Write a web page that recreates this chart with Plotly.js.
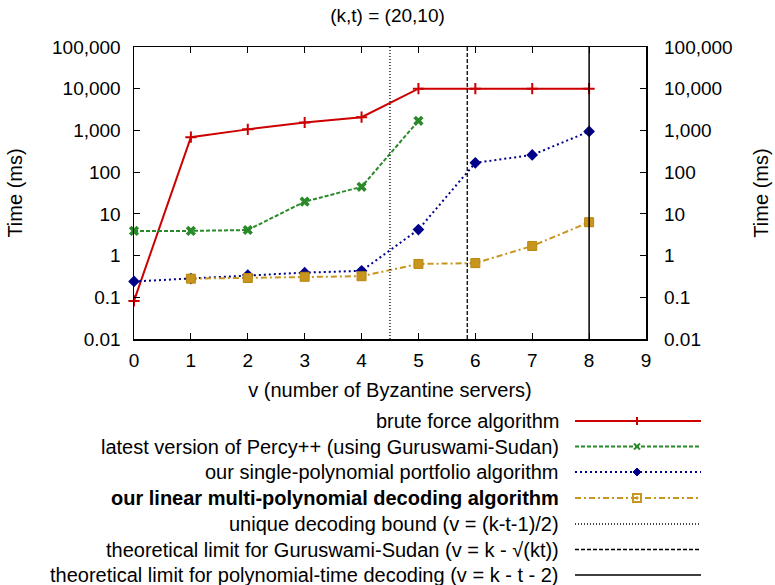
<!DOCTYPE html>
<html>
<head>
<meta charset="utf-8">
<script src="https://cdn.plot.ly/plotly-3.0.1.min.js"></script>
<style>html,body{margin:0;padding:0;background:#fff;}#chart{width:775px;height:585px;}</style>
</head>
<body>
<div id="chart"></div>
<script>
// ---- data ----
const vServers = [0, 1, 2, 3, 4, 5, 6, 7, 8];
const bruteForce = [0.082, 690, 1060, 1550, 2080, 10000, 10000, 10000, 10000];
const percyX = [0, 1, 2, 3, 4, 5];
const percyGS = [3.9, 3.9, 4.1, 19.6, 44.5, 1700];
const singlePoly = [0.24, 0.28, 0.34, 0.39, 0.43, 4.2, 167, 258, 945];
const linearX = [1, 2, 3, 4, 5, 6, 7, 8];
const linearMulti = [0.28, 0.29, 0.31, 0.32, 0.63, 0.66, 1.7, 6.3];
const kParam = 20, tParam = 10;
const uniqueBound = (kParam - tParam - 1) / 2;
const gsLimit = kParam - Math.sqrt(kParam * tParam);
const polyLimit = kParam - tParam - 2;
const yTickVals = [0.01, 0.1, 1, 10, 100, 1000, 10000, 100000];
const yTickText = ['0.01', '0.1', '1', '10', '100', '1,000', '10,000', '100,000'];
const legendLabels = [
  'brute force algorithm',
  'latest version of Percy++ (using Guruswami-Sudan)',
  'our single-polynomial portfolio algorithm',
  '<b>our linear multi-polynomial decoding algorithm</b>',
  'unique decoding bound (v = (k-t-1)/2)',
  'theoretical limit for Guruswami-Sudan (v = k - √(kt))',
  'theoretical limit for polynomial-time decoding (v = k - t - 2)'
];

// ---- styles ----
const FONT = 'Liberation Sans, Arial, Helvetica, sans-serif';
const RED = '#cc0000', GREEN = '#2a8a2a', BLUE = '#00008b', GOLD = '#c8961e';
const PL = 134, PR = 646, PT = 47, PB = 339; // plot frame in px
const px2x = p => (p - PL) / (PR - PL);
const px2y = p => (PB - p) / (PB - PT);

const traces = [
  {x: vServers, y: bruteForce, mode: 'lines+markers', line: {color: RED, width: 2},
   marker: {symbol: 'cross-thin', size: 8, line: {color: RED, width: 2}}, cliponaxis: false},
  {x: percyX, y: percyGS, mode: 'lines+markers', line: {color: GREEN, width: 2, dash: '4px,2px'},
   marker: {symbol: 'x', size: 9, color: GREEN}, cliponaxis: false},
  {x: vServers, y: singlePoly, mode: 'lines+markers', line: {color: BLUE, width: 2, dash: '2px,3px'},
   marker: {symbol: 'diamond', size: 9, color: BLUE}, cliponaxis: false},
  {x: linearX, y: linearMulti, mode: 'lines+markers', line: {color: GOLD, width: 2, dash: '6px,3px,2px,3px'},
   marker: {symbol: 'square', size: 9, color: GOLD, line: {color: '#b8860b', width: 1}}, cliponaxis: false},
  // dummy to activate right axis
  {x: vServers, y: singlePoly, yaxis: 'y2', mode: 'none', hoverinfo: 'skip'}
];

// legend rows
const rowsPx = [421, 446.5, 472, 498, 524, 549.5, 575];
const lineStyles = [
  {color: RED, dash: 'solid', width: 2},
  {color: GREEN, dash: '4px,2px', width: 2},
  {color: BLUE, dash: '2px,3px', width: 2},
  {color: GOLD, dash: '6px,3px,2px,3px', width: 2},
  {color: '#000', dash: '1px,2px', width: 1.3},
  {color: '#000', dash: '4px,2px', width: 1.3},
  {color: '#000', dash: 'solid', width: 1.5}
];
const shapes = [];
const annotations = [];
rowsPx.forEach((py, i) => {
  shapes.push({type: 'line', xref: 'paper', yref: 'paper', x0: px2x(575), x1: px2x(701), y0: px2y(py), y1: px2y(py),
    line: lineStyles[i]});
  annotations.push({xref: 'paper', yref: 'paper', x: px2x(561), y: px2y(py), xanchor: 'right', yanchor: 'middle',
    text: legendLabels[i], showarrow: false, font: {family: FONT, size: 20, color: '#000'}});
});
// vertical bound lines
[[uniqueBound, '1px,2px', 1.3], [gsLimit, '4px,2px', 1.3], [polyLimit, 'solid', 1.5]].forEach(([xv, d, w]) => {
  shapes.push({type: 'line', xref: 'x', yref: 'paper', x0: xv, x1: xv, y0: 0, y1: 1, line: {color: '#000', dash: d, width: w}});
});
// legend sample markers drawn as small paper-space shapes
const mx = 637;
function pathPx(pts, close) {
  return pts.map((p, j) => (j === 0 ? 'M' : 'L') + px2x(p[0]) + ',' + px2y(p[1])).join(' ') + (close ? ' Z' : '');
}
function seg(a, b, color, w) {
  shapes.push({type: 'path', xref: 'paper', yref: 'paper', path: pathPx([a, b], false), line: {color: color, width: w}});
}
// brute '+'
seg([mx - 4, rowsPx[0]], [mx + 4, rowsPx[0]], RED, 2);
seg([mx, rowsPx[0] - 4], [mx, rowsPx[0] + 4], RED, 2);
// percy 'x'
seg([mx - 3, rowsPx[1] - 3], [mx + 3, rowsPx[1] + 3], GREEN, 2);
seg([mx - 3, rowsPx[1] + 3], [mx + 3, rowsPx[1] - 3], GREEN, 2);
// single diamond
shapes.push({type: 'path', xref: 'paper', yref: 'paper',
  path: pathPx([[mx, rowsPx[2] - 4], [mx + 4, rowsPx[2]], [mx, rowsPx[2] + 4], [mx - 4, rowsPx[2]]], true),
  fillcolor: BLUE, line: {color: BLUE, width: 1}});
// linear open square with dot
shapes.push({type: 'path', xref: 'paper', yref: 'paper',
  path: pathPx([[mx - 4, rowsPx[3] - 4], [mx + 4, rowsPx[3] - 4], [mx + 4, rowsPx[3] + 4], [mx - 4, rowsPx[3] + 4]], true),
  fillcolor: 'rgba(0,0,0,0)', line: {color: GOLD, width: 2}});
shapes.push({type: 'path', xref: 'paper', yref: 'paper',
  path: pathPx([[mx - 1, rowsPx[3] - 1], [mx + 1, rowsPx[3] - 1], [mx + 1, rowsPx[3] + 1], [mx - 1, rowsPx[3] + 1]], true),
  fillcolor: GOLD, line: {color: GOLD, width: 1}});

const yCommon = {type: 'log', range: [-2, 5], tickvals: yTickVals, ticktext: yTickText,
  ticks: 'inside', ticklen: 6, tickwidth: 1.2, tickcolor: '#000', showgrid: false, zeroline: false,
  tickfont: {family: FONT, size: 19, color: '#000'}};

const layout = {
  width: 775, height: 585,
  margin: {l: PL, r: 775 - PR, t: PT, b: 585 - PB, pad: 0},
  paper_bgcolor: '#fff', plot_bgcolor: '#fff',
  showlegend: false,
  font: {family: FONT, size: 19, color: '#000'},
  title: {text: '(k,t) = (20,10)', x: 0.5, xanchor: 'center', y: 0.974, yanchor: 'middle',
    font: {family: FONT, size: 19, color: '#000'}},
  xaxis: {range: [0, 9], tickvals: [0,1,2,3,4,5,6,7,8,9], ticks: 'inside', ticklen: 6, tickwidth: 1.2,
    tickcolor: '#000', showline: true, linecolor: '#000', linewidth: 1.5, mirror: 'ticks',
    showgrid: false, zeroline: false, tickfont: {family: FONT, size: 19, color: '#000'}, ticklabelstandoff: 4,
    title: {text: 'v (number of Byzantine servers)', standoff: 12, font: {family: FONT, size: 20, color: '#000'}}},
  yaxis: Object.assign({}, yCommon, {showline: true, linecolor: '#000', linewidth: 1.5, mirror: true,
    ticklabelstandoff: 8,
    title: {text: 'Time (ms)', standoff: 24, font: {family: FONT, size: 20, color: '#000'}}}),
  yaxis2: Object.assign({}, yCommon, {overlaying: 'y', side: 'right', showline: false, ticklabelstandoff: 17,
    title: {text: 'Time (ms)', standoff: 22, font: {family: FONT, size: 20, color: '#000'}}}),
  shapes: shapes,
  annotations: annotations
};

Plotly.newPlot('chart', traces, layout, {displayModeBar: false, staticPlot: true});
</script>
</body>
</html>
